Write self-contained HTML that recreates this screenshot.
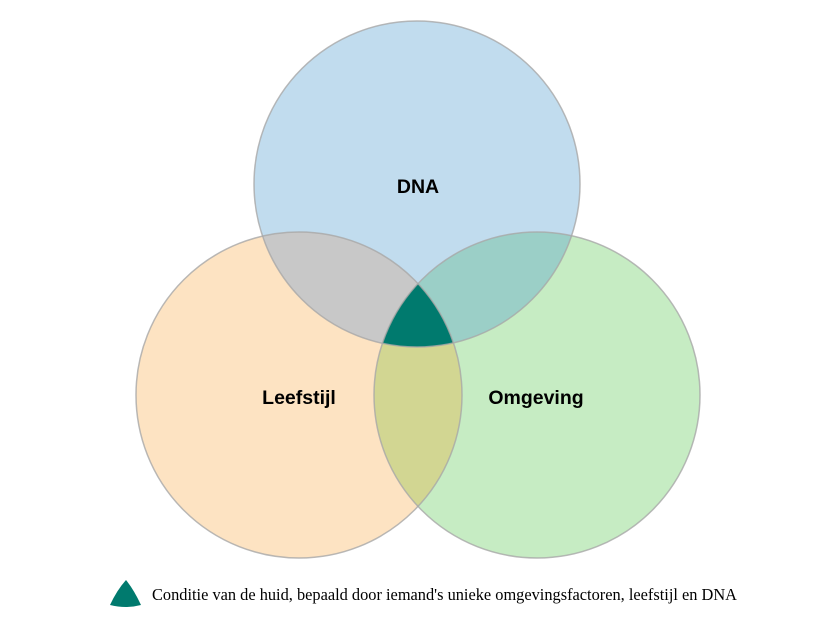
<!DOCTYPE html>
<html><head><meta charset="utf-8"><style>html,body{margin:0;padding:0;background:#fff}svg{display:block}</style></head>
<body>
<svg width="836" height="625" viewBox="0 0 836 625" xmlns="http://www.w3.org/2000/svg">
<defs>
<clipPath id="cD"><circle cx="417" cy="184" r="163"/></clipPath>
<clipPath id="cL"><circle cx="299" cy="395" r="163"/></clipPath>
<clipPath id="cO"><circle cx="537" cy="395" r="163"/></clipPath>
</defs>
<circle cx="417" cy="184" r="163" fill="#c1dcee"/>
<circle cx="299" cy="395" r="163" fill="#fde3c2"/>
<circle cx="537" cy="395" r="163" fill="#c6ecc3"/>
<g clip-path="url(#cD)">
<circle cx="299" cy="395" r="163" fill="#c8c8c8"/>
<circle cx="537" cy="395" r="163" fill="#9bcfc7"/>
</g>
<g clip-path="url(#cL)">
<circle cx="537" cy="395" r="163" fill="#d2d692"/>
<g clip-path="url(#cD)"><circle cx="537" cy="395" r="163" fill="#007a6e"/></g>
</g>
<g fill="none" stroke="#a8a8a8" stroke-opacity="0.8" stroke-width="1.5">
<circle cx="417" cy="184" r="163"/>
<circle cx="299" cy="395" r="163"/>
<circle cx="537" cy="395" r="163"/>
</g>
<g font-family="Liberation Sans, sans-serif" font-weight="bold" font-size="19.5" fill="#000" text-anchor="middle">
<text x="418" y="193">DNA</text>
<text x="299" y="404">Leefstijl</text>
<text x="536" y="404">Omgeving</text>
</g>
<path d="M126,580 Q134,590 141,605 Q126,609 110,605 Q117,590 126,580 Z" fill="#007a6e"/>
<text x="152" y="600" font-family="Liberation Serif, serif" font-size="17" fill="#000" textLength="585" lengthAdjust="spacingAndGlyphs">Conditie van de huid, bepaald door iemand's unieke omgevingsfactoren, leefstijl en DNA</text>
</svg>
</body></html>
